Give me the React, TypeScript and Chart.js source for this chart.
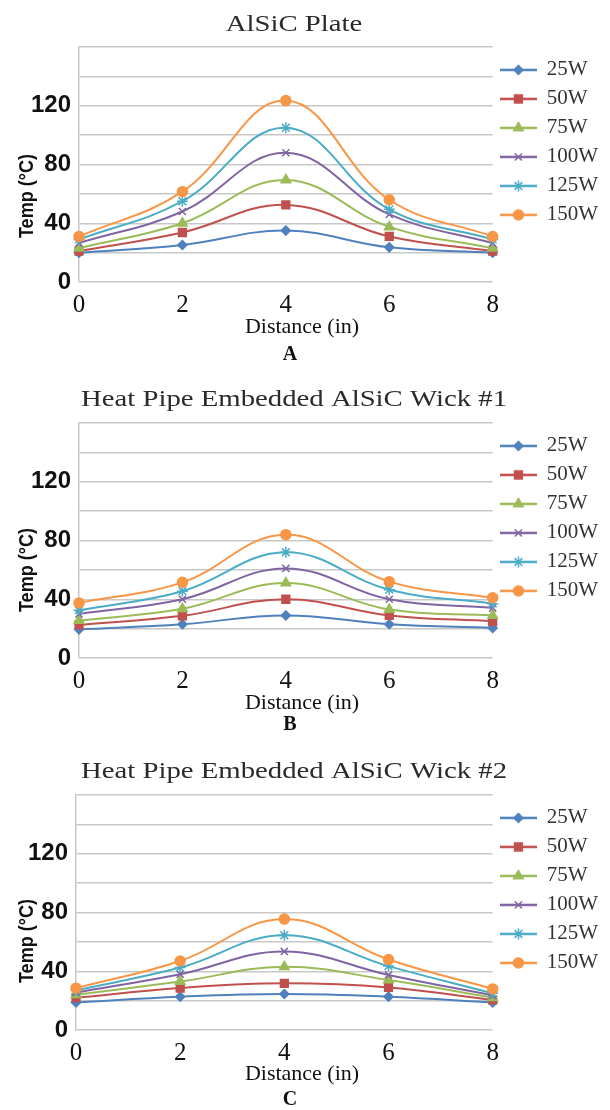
import React, { useEffect, useRef } from 'react';
import { Chart, registerables } from 'chart.js';
import { drawPoint } from 'chart.js/helpers';

Chart.register(...registerables);

// ---------- data ----------
const DISTANCE_IN = [0, 2, 4, 6, 8];
const POWER_LABELS = ['25W', '50W', '75W', '100W', '125W', '150W'];
const Y_TICK_LABELS = [0, 40, 80, 120];

// A: AlSiC Plate
const PLATE_25W = [20, 25.2, 35, 23.6, 20];
const PLATE_50W = [21, 33.7, 52.5, 31, 21];
const PLATE_75W = [23, 40, 69.5, 37.5, 23];
const PLATE_100W = [26.5, 48, 88, 46, 26.5];
const PLATE_125W = [29, 55, 105, 49.5, 29];
const PLATE_150W = [31, 61.5, 123.5, 56, 31];

// B: Heat Pipe Embedded AlSiC Wick #1
const WICK1_25W = [19.5, 23, 29, 23, 20.5];
const WICK1_50W = [22.5, 28.7, 40, 29, 25];
const WICK1_75W = [25.5, 33.5, 51, 33, 29];
const WICK1_100W = [30, 40, 61, 40, 34];
const WICK1_125W = [32.5, 45.5, 72, 46.5, 37];
const WICK1_150W = [37.5, 51.5, 84, 52, 41];

// C: Heat Pipe Embedded AlSiC Wick #2
const WICK2_25W = [18.8, 22.7, 24.5, 22.7, 18.8];
const WICK2_50W = [22, 28.6, 31.8, 29, 20.5];
const WICK2_75W = [24, 33, 43, 34, 22];
const WICK2_100W = [25.5, 38, 53.5, 37.5, 23.5];
const WICK2_125W = [27, 42.5, 64.5, 43.5, 25];
const WICK2_150W = [28.5, 47, 75.5, 48, 28];

const TITLES = ['AlSiC Plate', 'Heat Pipe Embedded AlSiC Wick #1', 'Heat Pipe Embedded AlSiC Wick #2'];
const LETTERS = ['A', 'B', 'C'];
const X_TITLE = 'Distance (in)';
const Y_TITLE = 'Temp (°C)';

// ---------- styles ----------
const COLORS = ['#4F81BD', '#C0504D', '#9BBB59', '#8064A2', '#4BACC6', '#F79646'];
const MARKERS = ['rectRot', 'rect', 'triangle', 'crossRot', 'star', 'circle'];
const MARKER_RADIUS = [4.5, 5.5, 5.5, 5, 5.5, 5];
const SERIF = '"Liberation Serif", "Times New Roman", serif';
const SANS = '"Liberation Sans", Arial, sans-serif';

const PANELS = [
  { series: [PLATE_25W, PLATE_50W, PLATE_75W, PLATE_100W, PLATE_125W, PLATE_150W], top: 0, height: 370, left: 79, titleY: 25, yTitleY: 196, xTitleY: 327, letterY: 355 },
  { series: [WICK1_25W, WICK1_50W, WICK1_75W, WICK1_100W, WICK1_125W, WICK1_150W], top: 376, height: 370, left: 79, titleY: 24, yTitleY: 194, xTitleY: 327, letterY: 349 },
  { series: [WICK2_25W, WICK2_50W, WICK2_75W, WICK2_100W, WICK2_125W, WICK2_150W], top: 748, height: 362, left: 76, titleY: 24, yTitleY: 193, xTitleY: 326, letterY: 352 },
];

function makeLegendIcon(i: number) {
  const c = document.createElement('canvas');
  c.width = 37;
  c.height = 14;
  const ctx = c.getContext('2d')!;
  ctx.strokeStyle = COLORS[i];
  ctx.lineWidth = 2.5;
  ctx.beginPath();
  ctx.moveTo(0, 7);
  ctx.lineTo(37, 7);
  ctx.stroke();
  ctx.fillStyle = COLORS[i];
  ctx.lineWidth = 1.5;
  drawPoint(ctx, { pointStyle: MARKERS[i] as any, radius: MARKER_RADIUS[i], borderWidth: 1.5, rotation: 0 } as any, 18.5, 7);
  return c;
}

const panelTextPlugin = {
  id: 'panelText',
  afterDraw(chart: any, _args: any, o: any) {
    const ctx = chart.ctx;
    ctx.save();
    ctx.textAlign = 'center';
    ctx.textBaseline = 'middle';
    // chart title (wide serif, as in the source figure)
    ctx.save();
    ctx.fillStyle = '#2a2a2a';
    ctx.font = `23px ${SERIF}`;
    ctx.translate(294, o.titleY);
    ctx.scale(1.25, 1);
    ctx.fillText(o.title, 0, 0);
    ctx.restore();
    // x axis title
    ctx.fillStyle = '#111';
    ctx.font = `22px ${SERIF}`;
    ctx.fillText(X_TITLE, 302, o.xTitleY);
    // panel letter
    ctx.font = `bold 20px ${SERIF}`;
    ctx.fillText(o.letter, 290, o.letterY);
    // y axis title
    ctx.translate(27, o.yTitleY);
    ctx.rotate(-Math.PI / 2);
    ctx.scale(0.86, 1);
    ctx.font = `bold 21px ${SANS}`;
    ctx.fillText(Y_TITLE, 0, 0);
    ctx.restore();
  },
};

function Panel({ idx }: { idx: number }) {
  const ref = useRef<HTMLCanvasElement>(null);
  const cfg = PANELS[idx];
  useEffect(() => {
    const icons = POWER_LABELS.map((_, i) => makeLegendIcon(i));
    const chart = new Chart(ref.current!, {
      type: 'line',
      data: {
        datasets: cfg.series.map((vals, i) => ({
          label: POWER_LABELS[i],
          data: DISTANCE_IN.map((x, j) => ({ x, y: vals[j] })),
          borderColor: COLORS[i],
          backgroundColor: COLORS[i],
          borderWidth: 2,
          tension: 0.4,
          pointStyle: MARKERS[i] as any,
          pointRadius: MARKER_RADIUS[i],
          pointBorderWidth: 1.5,
          pointBorderColor: COLORS[i],
          pointBackgroundColor: COLORS[i],
          order: POWER_LABELS.length - i,
          clip: false as any,
        })),
      },
      options: {
        responsive: false,
        animation: false,
        devicePixelRatio: 1,
        layout: { padding: { top: 47, left: 0, right: 2, bottom: 0 } },
        scales: {
          x: {
            type: 'linear',
            min: 0,
            max: 8,
            afterFit: (s: any) => { s.height = cfg.height - 282; },
            grid: { display: false },
            border: { display: false },
            ticks: { stepSize: 2, padding: 0, color: '#111', font: { family: SERIF, size: 25 } },
          },
          y: {
            type: 'linear',
            min: 0,
            max: 160,
            afterFit: (s: any) => { s.width = cfg.left; },
            grid: { color: '#c8c8c8', lineWidth: 1.5, drawTicks: false },
            border: { color: '#c8c8c8', width: 1.5 },
            ticks: {
              stepSize: 20,
              autoSkip: false,
              padding: 8,
              color: '#111',
              font: { family: SANS, size: 24, weight: 'bold' },
              callback: (v: any) => (Y_TICK_LABELS.includes(Number(v)) ? String(v) : ''),
            },
          },
        },
        plugins: {
          legend: {
            position: 'right',
            align: 'start',
            title: { display: true, text: '', font: { size: 2 }, padding: { top: 0, bottom: 2 } },
            labels: {
              usePointStyle: true,
              pointStyleWidth: 35.5,
              padding: 8,
              color: '#333',
              font: { family: SERIF, size: 21 },
              sort: (a: any, b: any) => a.datasetIndex - b.datasetIndex,
              generateLabels: (ch: any) =>
                (Chart.defaults.plugins.legend.labels.generateLabels as any)(ch).map((l: any) => ({
                  ...l,
                  pointStyle: icons[l.datasetIndex],
                })),
            },
          },
          tooltip: { enabled: false },
          panelText: { title: TITLES[idx], letter: LETTERS[idx], titleY: cfg.titleY, yTitleY: cfg.yTitleY, xTitleY: cfg.xTitleY, letterY: cfg.letterY },
        } as any,
      },
      plugins: [panelTextPlugin],
    } as any);
    return () => chart.destroy();
  }, []);
  return (
    <div style={{ position: 'absolute', left: 0, top: cfg.top, width: 610, height: cfg.height }}>
      <canvas ref={ref} width={610} height={cfg.height} style={{ display: 'block', width: 610, height: cfg.height }} />
    </div>
  );
}

export default function App() {
  return (
    <div style={{ position: 'absolute', left: 0, top: 0, width: 610, height: 1110, overflow: 'hidden', background: '#fff' }}>
      {PANELS.map((_, i) => (
        <Panel key={i} idx={i} />
      ))}
    </div>
  );
}
